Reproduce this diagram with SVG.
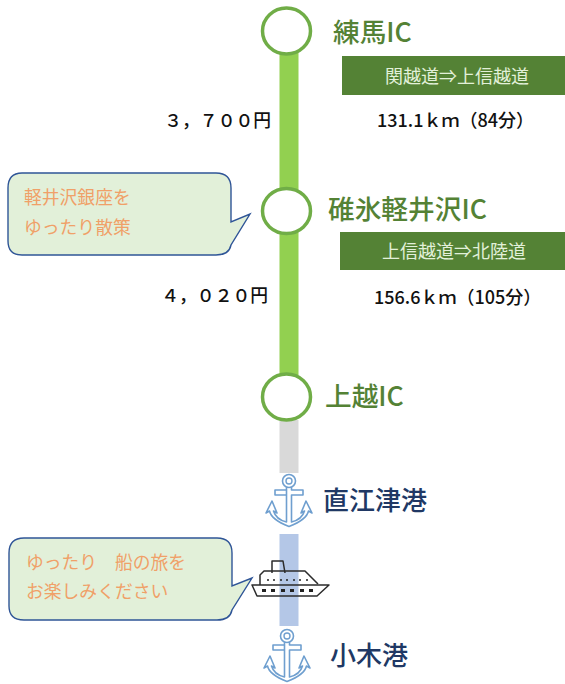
<svg xmlns="http://www.w3.org/2000/svg" width="565" height="684" viewBox="0 0 565 684">
<style>
text{font-family:"Noto Sans CJK JP","Noto Sans",sans-serif}
.ic{fill:#548235;font-size:26.7px;font-weight:500}
.port{fill:#203864;font-size:26px;font-weight:500}
.band{fill:#548235}
.bandt{fill:#e2f0d9;font-size:18px;text-anchor:middle}
.dist{fill:#111;font-size:18px;font-weight:500}
.fee{fill:#111;font-size:17.8px;font-weight:500;text-anchor:end}
.st{fill:#fff;stroke:#70ad47;stroke-width:3.5}
.bub{fill:#e2f0d9;stroke:#2f5597;stroke-width:1.4}
.bubt{fill:#f0a068;font-size:17.8px}
.anc{fill:#fff;stroke:#6f9fcf;stroke-width:1.6;stroke-linejoin:round}
.shp{fill:none;stroke:#2b2b2b;stroke-width:1.5;stroke-linejoin:round}
</style>
<defs>
<g id="anchor">
<path class="anc" d="M-2.500 -11V24C-9 22.500 -14 18 -15.500 13L-12 15L-17 3L-23 15L-19.500 13C-18 20 -9 25 0 28.500C9 25 18 20 19.500 13L23 15L17 3L12 15L15.500 13C14 18 9 22.500 2.500 24V-3H14V-8H2.500V-11H-2.500M-2.500 -8H-14V-3H-2.500"/>
<circle cx="0" cy="-17" r="6.500" fill="#fff" stroke="#6f9fcf" stroke-width="1.600"/>
<circle cx="0" cy="-17" r="3" fill="none" stroke="#6f9fcf" stroke-width="1.400"/>
</g>
</defs>
<g id="connectors">
<rect x="279.500" y="50" width="19" height="325" fill="#92d050"/>
<rect x="279.500" y="420" width="19" height="53" fill="#d9d9d9"/>
<rect x="279.500" y="534" width="19" height="92" fill="#b4c7e7"/>
</g>
<g id="node-nerima">
<ellipse class="st" cx="286.500" cy="31" rx="24" ry="23"/>
<text class="ic" x="333" y="42">練馬IC</text>
</g>
<g id="band-1">
<rect class="band" x="342" y="56" width="223" height="39"/>
<text class="bandt" x="457" y="83">関越道⇒上信越道</text>
</g>
<text class="dist" x="377" y="127">131.1ｋｍ（84分）</text>
<text class="fee" x="271" y="127">３，７００円</text>
<g id="node-usui">
<ellipse class="st" cx="286.500" cy="211" rx="24" ry="22.500"/>
<text class="ic" x="328" y="219">碓氷軽井沢IC</text>
</g>
<g id="band-2">
<rect class="band" x="340" y="232" width="225" height="38"/>
<text class="bandt" x="454" y="258">上信越道⇒北陸道</text>
</g>
<text class="dist" x="374" y="304">156.6ｋｍ（105分）</text>
<text class="fee" x="268" y="302">４，０２０円</text>
<g id="node-joetsu">
<ellipse class="st" cx="286.500" cy="397" rx="24" ry="23"/>
<text class="ic" x="325" y="406">上越IC</text>
</g>
<g id="note-karuizawa">
<path class="bub" d="M22 173H216Q231 173 231 188V222L250 214L231 245Q229 255 216 255H22Q8 255 8 241V188Q8 173 22 173Z"/>
<text class="bubt" x="24" y="204">軽井沢銀座を</text>
<text class="bubt" x="24" y="234">ゆったり散策</text>
</g>
<g id="port-naoetsu">
<use href="#anchor" x="289" y="498"/>
<text class="port" x="323" y="510">直江津港</text>
</g>
<g id="ship">
<path class="shp" d="M272 573V561H283L285 573M260 585V575L264 571H305L318 584"/>
<path class="shp" d="M252 585H329L317 596H257Z"/>
<g fill="#222"><rect x="262" y="589" width="4" height="3"/><rect x="271" y="589" width="4" height="3"/><rect x="281" y="589" width="4" height="3"/><rect x="290" y="589" width="4" height="3"/><rect x="300" y="589" width="4" height="3"/><rect x="309" y="589" width="4" height="3"/>
<circle cx="268" cy="580" r="1"/><circle cx="274" cy="580" r="1"/><circle cx="281" cy="580" r="1"/><circle cx="287" cy="580" r="1"/><circle cx="294" cy="580" r="1"/><circle cx="300" cy="580" r="1"/><circle cx="307" cy="580" r="1"/></g>
</g>
<g id="note-ship">
<path class="bub" d="M24 538H217Q232 538 232 553V586L252 578L232 610Q230 620 217 620H24Q9 620 9 606V553Q9 538 24 538Z"/>
<text class="bubt" x="26" y="569" xml:space="preserve">ゆったり　船の旅を</text>
<text class="bubt" x="26" y="598">お楽しみください</text>
</g>
<g id="port-ogi">
<use href="#anchor" x="287" y="653"/>
<text class="port" x="330" y="665">小木港</text>
</g>
</svg>
